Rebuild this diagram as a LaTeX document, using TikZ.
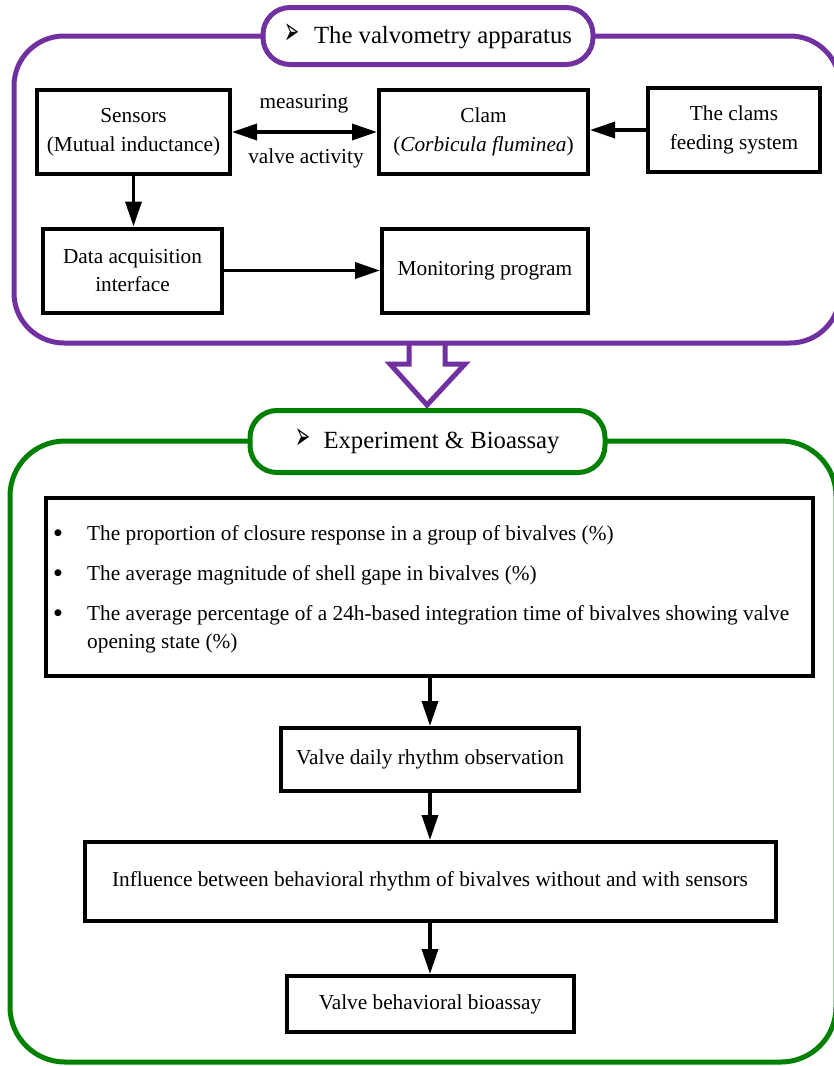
\documentclass[tikz,border=0pt]{standalone}
\usepackage{fontspec}
\setmainfont{Liberation Serif}
\newfontfamily\symfont{DejaVu Sans}
\usetikzlibrary{arrows.meta}
\definecolor{vpurple}{RGB}{112,48,160}
\definecolor{vgreen}{RGB}{0,128,0}
\newcommand{\pillmark}{\raisebox{-1pt}{\symfont\fontsize{30}{30}\selectfont\scalebox{0.6}[1.3]{➢}}}
\newcommand{\itembullet}{{\symfont\fontsize{9}{9}\selectfont ●}}
\begin{document}
\begin{tikzpicture}[x=1pt,y=-1pt,
  box/.style={draw=black, line width=4pt, fill=white, align=center, inner sep=2pt, font=\fontsize{21.3}{28.5}\selectfont},
  arr/.style={line width=3.5pt, -{Triangle[length=25pt,width=16pt]}},
  dblarr/.style={line width=3.5pt, {Triangle[length=25pt,width=16pt]}-{Triangle[length=25pt,width=16pt]}},
  container/.style={line width=5pt},
  pill/.style={draw, line width=5pt, fill=white, rounded corners=27pt, inner sep=0pt, font=\fontsize{24.7}{30}\selectfont},
  lbl/.style={font=\fontsize{21.3}{28.5}\selectfont, inner sep=0pt},
  bigarrow/.style={line width=5pt, line join=miter}]
\useasboundingbox (0,0) rectangle (834,1066);

% containers
\draw[container, vpurple, rounded corners=50pt] (14,36) rectangle (840,343);
\draw[container, vgreen, rounded corners=55pt] (10,441) rectangle (836,1062);

% big hollow arrow
\draw[bigarrow, vpurple] (409,343) -- (409,364) -- (390,364) -- (427,405) -- (465,364) -- (445,364) -- (445,343);

% title pills
\node[pill, draw=vpurple, minimum width=330pt, minimum height=57pt] (t1) at (428,36)
  {\pillmark\hspace{15pt}The valvometry apparatus};
\node[pill, draw=vgreen, minimum width=355pt, minimum height=62pt] (t2) at (427.5,441.5)
  {\pillmark\hspace{13pt}Experiment \& Bioassay};

% apparatus boxes
\node[box, minimum width=193pt, minimum height=84pt] (sens) at (133.5,132) {Sensors\\(Mutual inductance)};
\node[box, minimum width=209pt, minimum height=84pt] (clam) at (483.5,132) {Clam\\(\textit{Corbicula fluminea})};
\node[box, minimum width=172pt, minimum height=84pt] (feed) at (734,130) {The clams\\feeding system};
\node[box, minimum width=179pt, minimum height=84pt] (data) at (132.5,270.5) {Data acquisition\\interface};
\node[box, minimum width=206pt, minimum height=84pt] (mon) at (485,271) {Monitoring program};

\node[lbl] (meas) at (304,104) {measuring};
\node[lbl] (vact) at (306,158) {valve activity};

\draw[dblarr] (sens) -- (clam);
\draw[arr] (feed.west) -- (feed.west -| clam.east);
\draw[arr] (sens.south) -- (sens.south |- data.north);
\draw[arr] (data.east) -- (data.east -| mon.west);

% experiment boxes
\node[box, minimum width=767pt, minimum height=178pt] (list) at (429.5,587) {};
\node[lbl] (bu1) at (58,533) {\itembullet};
\node[lbl] (bu2) at (58,573.5) {\itembullet};
\node[lbl] (bu3) at (58,613.5) {\itembullet};
\node[lbl, anchor=base west] (it1) at (87,540) {The proportion of closure response in a group of bivalves (\%)};
\node[lbl, anchor=base west] (it2) at (87,580.5) {The average magnitude of shell gape in bivalves (\%)};
\node[lbl, anchor=base west] (it3) at (87,620.5) {The average percentage of a 24h-based integration time of bivalves showing valve};
\node[lbl, anchor=base west] (it3b) at (87,648.5) {opening state (\%)};

\node[box, minimum width=298pt, minimum height=63pt] (daily) at (430,759.5) {Valve daily rhythm observation};
\node[box, minimum width=691pt, minimum height=79pt] (infl) at (430,881.5) {Influence between behavioral rhythm of bivalves without and with sensors};
\node[box, minimum width=287pt, minimum height=56pt] (bioa) at (430,1004) {Valve behavioral bioassay};

\draw[arr] (list.south -| daily.north) -- (daily.north);
\draw[arr] (daily.south) -- (infl.north);
\draw[arr] (infl.south) -- (bioa.north);
\end{tikzpicture}
\end{document}
